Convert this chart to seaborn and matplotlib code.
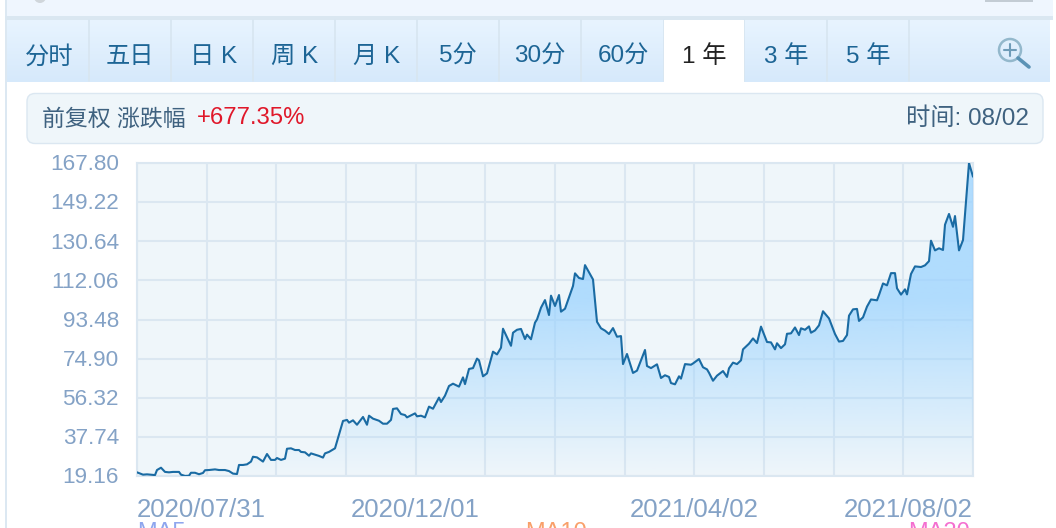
import numpy as np
import pandas as pd
import matplotlib
matplotlib.use('Agg')
import matplotlib.pyplot as plt
from matplotlib.colors import LinearSegmentedColormap
from matplotlib.patches import Rectangle, FancyBboxPatch, Circle
from matplotlib.transforms import ScaledTranslation
import seaborn as sns

# observation number along the year (0 = 2020/07/31, 418 = 2021/08/02)
session = [0, 3, 5, 7, 9, 10, 12, 14, 16, 18, 21, 22, 24, 26, 27, 29, 31, 33, 34, 36,
           39, 41, 44, 46, 48, 50, 51, 53, 55, 57, 58, 60, 63, 65, 67, 69, 70, 72, 74, 75,
           77, 79, 81, 82, 84, 86, 87, 89, 91, 93, 94, 96, 99, 103, 105, 106, 108, 110, 113, 115,
           116, 118, 121, 123, 125, 127, 128, 130, 132, 134, 135, 139, 140, 142, 144, 146, 148, 151, 152, 154,
           156, 158, 160, 161, 163, 164, 166, 168, 170, 171, 173, 175, 178, 180, 182, 183, 187, 188, 190, 192,
           194, 195, 197, 199, 200, 202, 204, 206, 207, 209, 211, 212, 214, 218, 219, 221, 223, 224, 228, 230,
           232, 234, 236, 238, 240, 242, 243, 245, 248, 250, 254, 255, 257, 260, 262, 264, 266, 267, 269, 271,
           272, 274, 277, 278, 281, 283, 285, 286, 288, 290, 293, 295, 296, 298, 300, 302, 303, 306, 308, 310,
           312, 313, 315, 317, 319, 320, 322, 324, 325, 327, 329, 331, 332, 334, 336, 337, 339, 341, 343, 346,
           349, 351, 353, 355, 356, 358, 360, 361, 363, 365, 367, 370, 371, 373, 375, 377, 379, 380, 382, 384,
           385, 387, 389, 392, 394, 396, 397, 399, 401, 403, 404, 406, 408, 409, 411, 413, 416, 418]
price = [20.9, 19.8, 19.95, 19.8, 19.6, 22.0, 23.1, 21.1, 20.9, 21.1, 21.1, 19.8, 19.2, 19.3, 20.7, 20.7, 20.0, 20.6, 21.9, 22.0,
         22.3, 22.0, 22.0, 21.5, 20.3, 20.1, 24.4, 24.4, 24.7, 26.0, 28.3, 28.0, 26.0, 29.6, 26.8, 26.8, 27.7, 26.8, 27.4, 32.1,
         32.3, 31.5, 31.5, 30.6, 30.4, 28.8, 29.9, 29.3, 28.7, 27.9, 29.9, 30.6, 32.3, 45.3, 45.8, 44.5, 45.6, 43.5, 47.2, 43.5,
         47.8, 46.4, 45.4, 44.0, 44.0, 45.8, 51.0, 51.3, 48.6, 48.1, 47.0, 48.9, 47.5, 47.8, 47.0, 52.1, 51.1, 56.4, 54.3, 57.3,
         61.9, 63.0, 62.1, 61.6, 66.0, 62.8, 70.0, 70.4, 74.9, 74.1, 66.5, 67.9, 78.2, 76.9, 80.1, 89.1, 81.0, 87.2, 88.6, 89.0,
         84.2, 86.3, 84.1, 92.0, 93.5, 99.1, 102.7, 95.6, 104.8, 99.9, 105.1, 97.2, 98.6, 109.4, 115.4, 113.2, 112.7, 119.3, 112.5, 92.4,
         89.3, 88.2, 86.6, 89.4, 85.3, 85.6, 72.3, 77.1, 68.1, 69.2, 79.0, 71.4, 70.4, 72.2, 65.7, 67.0, 66.2, 63.3, 62.7, 66.5,
         65.4, 72.3, 72.0, 72.6, 74.7, 70.8, 69.8, 68.2, 64.4, 66.8, 69.0, 66.2, 70.3, 73.0, 72.3, 74.1, 79.3, 82.0, 84.5, 82.3,
         90.1, 87.7, 82.8, 82.6, 79.3, 82.2, 79.9, 81.7, 86.7, 86.9, 89.7, 86.1, 89.3, 88.6, 90.2, 87.2, 88.3, 90.7, 97.4, 94.0,
         86.6, 83.0, 83.3, 86.1, 95.3, 98.3, 98.5, 92.8, 94.5, 99.6, 103.0, 102.6, 105.1, 110.6, 109.7, 115.5, 115.5, 108.3, 105.3, 107.8,
         105.4, 115.1, 118.7, 118.4, 119.2, 121.2, 130.9, 126.3, 127.3, 126.5, 138.5, 143.6, 137.5, 142.6, 126.3, 131.2, 167.8, 161.3]

y_ticks = [19.16, 37.74, 56.32, 74.90, 93.48, 112.06, 130.64, 149.22, 167.80]
date_labels = ['2020/07/31', '2020/12/01', '2021/04/02', '2021/08/02']
tab_labels = ['分时', '五日', '日 K', '周 K', '月 K', '5分', '30分', '60分', '1 年', '3 年', '5 年']

W, H = 1056, 528
GRID = '#dbe7f1'
TICK = '#84a2c6'
FONT = ['Liberation Sans', 'Noto Sans CJK SC']

sns.set_theme(style='white')
plt.rcParams['font.family'] = FONT

fig = plt.figure(figsize=(W / 100, H / 100), dpi=100, facecolor='white')

# page furniture, in pixel coordinates
bg = fig.add_axes([0, 0, 1, 1])
bg.set_xlim(0, W)
bg.set_ylim(H, 0)
bg.axis('off')

bg.add_patch(Rectangle((5, 0), 2, H, color='#dce8f2', lw=0))
bg.add_patch(Rectangle((7, 0), 1046, 17, color='#eff6fe', lw=0))
bg.add_patch(Rectangle((5, 16), 1048, 4, color='#dae7f1', lw=0))
bg.add_patch(Rectangle((985, 0), 48, 1.5, color='#c3ccd4', lw=0))
bg.add_patch(Circle((40, -3), 6, fc='#d0d6db', lw=0))

tab_cmap = LinearSegmentedColormap.from_list('tab', ['#e8f4ff', '#d6e9fb'])
bg.imshow(np.linspace(0, 1, 64).reshape(-1, 1), cmap=tab_cmap, aspect='auto',
          extent=(7, 1050, 82, 20), zorder=1, origin='upper')
bg.set_xlim(0, W)
bg.set_ylim(H, 0)

tab_edges = [89, 171, 253, 335, 417, 499, 581, 664, 744, 827, 909]
tab_centers = [49, 130, 214, 295, 377, 458, 540, 623, 704, 786, 868]
for x in tab_edges:
    bg.plot([x, x], [20, 81], color='#d8e6f1', lw=1.3, zorder=2)
bg.add_patch(Rectangle((664, 20), 80, 62, color='white', lw=0, zorder=3))
for x, lab in zip(tab_centers, tab_labels):
    col = '#222222' if lab == '1 年' else '#1d6595'
    bg.text(x, 57, lab, ha='center', va='center', fontsize=17.5, color=col, zorder=4)

# magnifier
bg.add_patch(Circle((1010, 50), 11, fc='none', ec='#93b8cc', lw=1.8, zorder=4))
bg.plot([1004, 1016], [50, 50], color='#6f9cb8', lw=1.5, zorder=4)
bg.plot([1010, 1010], [44, 56], color='#6f9cb8', lw=1.5, zorder=4)
bg.plot([1018, 1029], [58, 67], color='#5b93b5', lw=2.6, zorder=4)

# header pill
bg.add_patch(FancyBboxPatch((27, 93.5), 1016, 50, boxstyle='round,pad=0,rounding_size=8',
                            fc='#eff6fa', ec=GRID, lw=1))
bg.text(42, 119, '前复权 涨跌幅', ha='left', va='center', fontsize=16.5, color='#3f6280')
bg.text(197, 118.5, '+677.35%', ha='left', va='center', fontsize=17.2, color='#e0182a')
bg.text(1029, 119, '时间: 08/02', ha='right', va='center', fontsize=17.5, color='#3f6280')

# MA legend, cut off by the bottom of the page in the source
bg.text(137, 522, 'MA5', ha='left', va='top', fontsize=17, color='#8ea6ee')
bg.text(525, 522, 'MA10', ha='left', va='top', fontsize=17, color='#f9a06a')
bg.text(908, 522, 'MA20', ha='left', va='top', fontsize=17, color='#f46fd0')

# chart
left, right, top, bottom = 137, 973, 163, 476
ax = fig.add_axes([left / W, 1 - bottom / H, (right - left) / W, (bottom - top) / H])
ax.set_facecolor('#eff6fa')

df = pd.DataFrame({'session': session, 'price': price})
sns.lineplot(data=df, x='session', y='price', ax=ax, color='#1a6ba3', lw=1.5, zorder=5)

x_max = session[-1]
ax.set_xlim(0, x_max)
ax.set_ylim(y_ticks[0], y_ticks[-1])

# gradient under the line, clipped to the area
grad = np.zeros((256, 1, 4))
grad[..., 0] = 0x98 / 255
grad[..., 1] = 0xd2 / 255
grad[..., 2] = 1.0
grad[:, 0, 3] = np.minimum(np.linspace(1.27, 0, 256), 0.72)
poly = ax.fill_between(df['session'], df['price'], y_ticks[0], color='none', lw=0)
im = ax.imshow(grad, extent=(0, x_max, y_ticks[0], y_ticks[-1]), aspect='auto', zorder=3)
im.set_clip_path(poly.get_paths()[0], transform=ax.transData)
ax.set_xlim(0, x_max)
ax.set_ylim(y_ticks[0], y_ticks[-1])

ax.set_xticks(np.linspace(0, x_max, 13))
ax.set_yticks(y_ticks)
ax.grid(True, color=GRID, lw=1.5, zorder=1)
ax.set_axisbelow(True)
for s in ax.spines.values():
    s.set_color(GRID)
    s.set_linewidth(1.5)
    s.set_visible(True)

ax.set_xlabel('')
ax.set_ylabel('')
ax.set_yticklabels([f'{v:.2f}' for v in y_ticks], fontsize=16.2, color=TICK)
ax.set_xticklabels([date_labels[i // 4] if i % 4 == 0 else '' for i in range(13)],
                   fontsize=18.5, color=TICK)
ax.tick_params(axis='both', length=0)
ax.tick_params(axis='y', pad=13)
ax.tick_params(axis='x', pad=16)
xt = ax.get_xticklabels()
xt[0].set_ha('left')
xt[12].set_ha('right')
# value labels sit a little above their grid lines
up = ScaledTranslation(0, 0.5 / 72, fig.dpi_scale_trans)
for t in ax.get_yticklabels():
    t.set_transform(t.get_transform() + up)

plt.savefig('out.png', dpi=100)
plt.close()
